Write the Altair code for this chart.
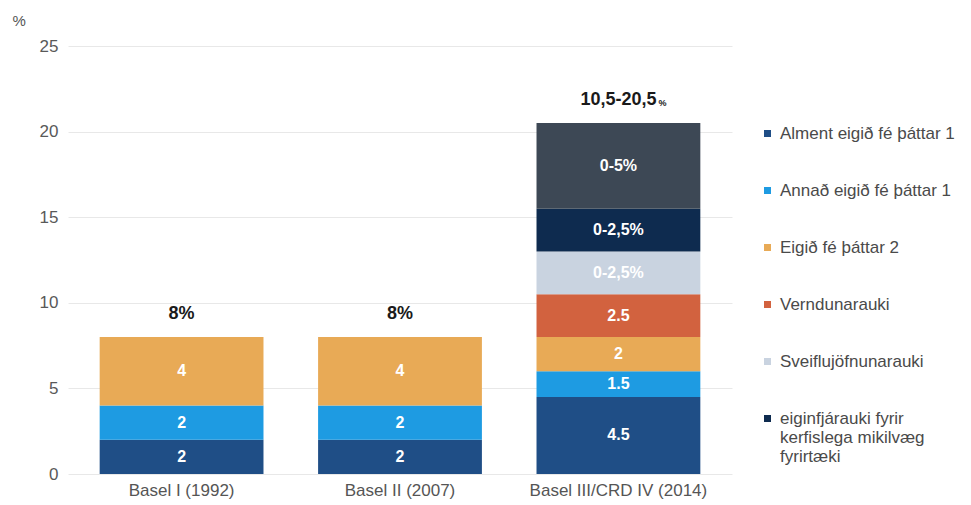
import altair as alt
import pandas as pd

categories = ["Basel I (1992)", "Basel II (2007)", "Basel III/CRD IV (2014)"]
series = [
    "Alment eigið fé þáttar 1",
    "Annað eigið fé þáttar 1",
    "Eigið fé þáttar 2",
    "Verndunarauki",
    "Sveiflujöfnunarauki",
    "eiginfjárauki fyrir kerfislega mikilvæg fyrirtæki",
    "Viðbótarauki",
]
colors = ["#1F4E86", "#1E9BE2", "#E8AA56", "#D2623F", "#C9D3E0", "#0E2B4F", "#3D4855"]

basel1_values = [2, 2, 4]
basel1_labels = ["2", "2", "4"]
basel2_values = [2, 2, 4]
basel2_labels = ["2", "2", "4"]
basel3_values = [4.5, 1.5, 2, 2.5, 2.5, 2.5, 5]
basel3_labels = ["4.5", "1.5", "2", "2.5", "0-2,5%", "0-2,5%", "0-5%"]

total_values = [8, 8, 20.5]
total_labels = ["8%", "8%", "10,5-20,5"]

rows = []
for cat, vals, labs in [
    (categories[0], basel1_values, basel1_labels),
    (categories[1], basel2_values, basel2_labels),
    (categories[2], basel3_values, basel3_labels),
]:
    for i, (v, l) in enumerate(zip(vals, labs)):
        rows.append({"cat": cat, "series": series[i], "order": i, "value": v, "label": l})
df = pd.DataFrame(rows)
tot = pd.DataFrame({"cat": categories, "total": total_values, "label": total_labels})
pct = tot[tot["cat"] == categories[2]].assign(label="%")

FONT = "Liberation Sans"

x_enc = alt.X("cat:N", sort=categories,
              scale=alt.Scale(paddingInner=0.25, paddingOuter=0.145),
              axis=alt.Axis(title=None, labelAngle=0, labelFontSize=17, labelColor="#555555",
                            ticks=False, domain=False, labelPadding=8, labelFont=FONT))

stacked = alt.Chart(df).transform_stack(
    stack="value", as_=["y0", "y1"], groupby=["cat"], sort=[alt.SortField("order")]
).transform_calculate(mid="(datum.y0 + datum.y1) / 2")

bars = stacked.mark_bar().encode(
    x=x_enc,
    y=alt.Y("y0:Q", scale=alt.Scale(domain=[0, 25], nice=False),
            axis=alt.Axis(values=[0, 5, 10, 15, 20, 25], title="%", titleAngle=0, titleX=-56, titleY=-26,
                          titleAlign="left", titleBaseline="middle", titleFontWeight="normal",
                          titleFontSize=15, titleColor="#555555", titleFont=FONT,
                          labelFontSize=17, labelColor="#595959", labelFont=FONT, labelPadding=10,
                          ticks=False, domain=False, gridColor="#E8E8E8")),
    y2="y1:Q",
    color=alt.Color("series:N", scale=alt.Scale(domain=series, range=colors),
                    legend=alt.Legend(
                        title=None, values=series[:6], orient="none", legendX=691, legendY=79,
                        symbolType="square", symbolSize=49, symbolStrokeWidth=0,
                        labelFontSize=17, labelColor="#4A4A4A", labelFont=FONT, labelLimit=400,
                        rowPadding=39, labelOffset=4,
                        labelExpr="datum.label == 'eiginfjárauki fyrir kerfislega mikilvæg fyrirtæki' ? ['eiginfjárauki fyrir', 'kerfislega mikilvæg', 'fyrirtæki'] : datum.label",
                    )),
    order=alt.Order("order:Q"),
)

seg_text = stacked.mark_text(color="white", fontWeight="bold", fontSize=16, font=FONT, baseline="middle").encode(
    x=alt.X("cat:N", sort=categories),
    y=alt.Y("mid:Q"),
    text="label:N",
)

tot_text = alt.Chart(tot).mark_text(color="#1A1A1A", fontWeight="bold", fontSize=18, font=FONT,
                                    baseline="middle", dy=-23).encode(
    x=alt.X("cat:N", sort=categories),
    y=alt.Y("total:Q"),
    text="label:N",
)

pct_text = alt.Chart(pct).mark_text(color="#1A1A1A", fontWeight="bold", fontSize=9, font=FONT,
                                    baseline="middle", align="left", dx=40, dy=-20).encode(
    x=alt.X("cat:N", sort=categories),
    y=alt.Y("total:Q"),
    text="label:N",
)

chart = alt.layer(bars, seg_text, tot_text, pct_text).properties(
    width=664, height=428,
    background="white",
    autosize=alt.AutoSizeParams(type="none"),
    padding={"left": 60, "top": 38, "right": 231, "bottom": 31},
).configure_view(stroke="transparent", strokeWidth=0)

chart.save("out.html", embed_options={"renderer": "svg", "actions": False})
